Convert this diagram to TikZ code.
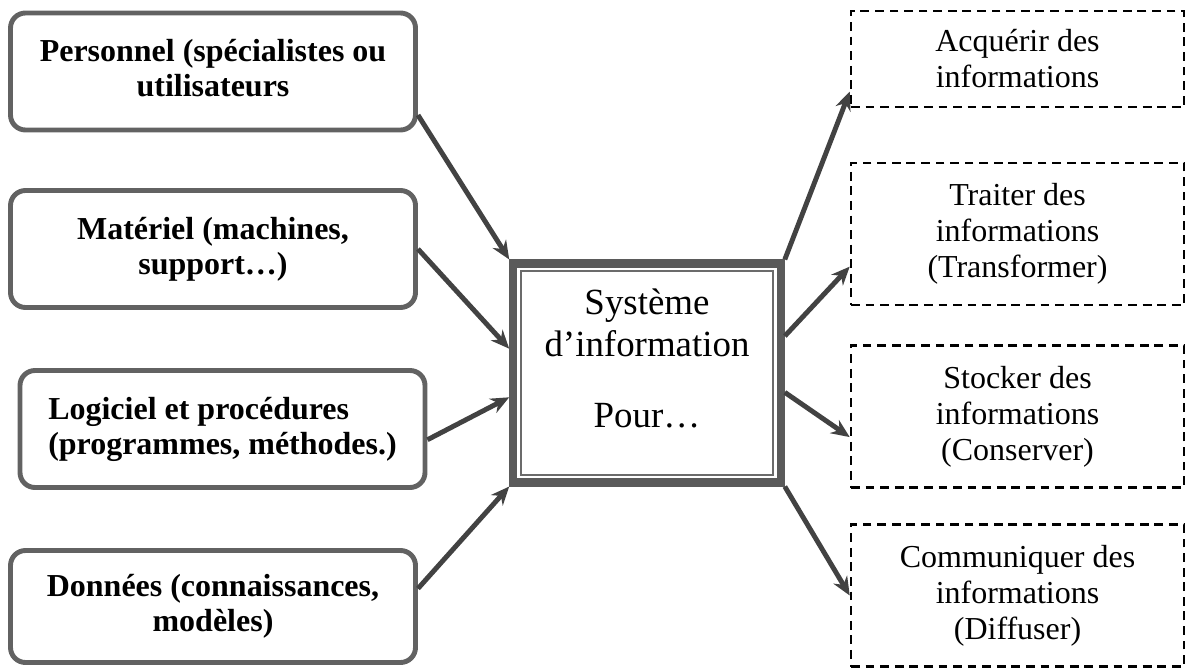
\documentclass[tikz,border=0pt]{standalone}
\usepackage{fontspec}
\setmainfont{Liberation Serif}
\definecolor{BoxGrey}{HTML}{626262}
\definecolor{FrameGrey}{HTML}{5A5A5A}
\definecolor{ArrowGrey}{HTML}{424242}
\usetikzlibrary{arrows.meta, positioning, calc}

\begin{document}
\begin{tikzpicture}[x=0.2mm, y=-0.2mm, >={Stealth[length=10.5pt, width=9pt]},
  resource/.style={draw=BoxGrey, line width=2.8pt, rounded corners=0.3cm,
    minimum width=8.1cm, minimum height=2.34cm, align=center,
    font=\bfseries\fontsize{18.2}{20}\selectfont},
  task/.style={draw, dash pattern=on 5pt off 3.3pt, line width=1.45pt,
    minimum width=6.66cm, minimum height=2.84cm, align=center,
    font=\fontsize{18.2}{20.5}\selectfont},
  flow/.style={->, draw=ArrowGrey, line width=2.8pt}]
  \useasboundingbox (0,0) rectangle (1187,668);

  % what the system is made of
  \node[resource, text depth=0.16cm] (pers) at (213,71.5) {Personnel (spécialistes ou\\utilisateurs};
  \node[resource] (mat) at (213,249) {Matériel (machines,\\support…)};
  \node[resource, align=left] (log) at (222.5,429) {Logiciel et procédures\\(programmes, méthodes.)};
  \node[resource, minimum height=2.24cm] (don) at (213,606.5) {Données (connaissances,\\modèles)};

  % the system itself
  \node[draw=FrameGrey, line width=4.6pt, minimum width=5.35cm, minimum height=4.38cm,
    align=center, text depth=0.6cm, font=\fontsize{21}{23.9}\selectfont]
    (sys) at (647,373) {Système\\d’information\\[16.5pt]Pour…};
  \draw[FrameGrey!90, line width=1.3pt] ($(sys.north west)+(11.5,11.5)$) rectangle ($(sys.south east)+(-11.5,-11.5)$);

  % what it is for
  \node[task, minimum height=1.92cm] (acq) at (1017.5,59) {Acquérir des\\informations};
  \node[task] (trait) at (1017.5,234) {Traiter des\\informations\\(Transformer)};
  \node[task] (stock) at (1017.5,416.5) {Stocker des\\informations\\(Conserver)};
  \node[task] (comm) at (1017.5,595.5) {Communiquer des\\informations\\(Diffuser)};

  \draw[flow] (pers.-12) -- (sys.north west);
  \draw[flow] (mat.east) -- (sys.170);
  \draw[flow] (log.-3) -- (sys.190);
  \draw[flow] (don.5) -- (sys.south west);

  \draw[flow] (sys.north east) -- (acq.191);
  \draw[flow] (sys.15) -- (trait.191);
  \draw[flow] (sys.-8) -- (stock.187);
  \draw[flow] (sys.south east) -- (comm.west);
\end{tikzpicture}
\end{document}
